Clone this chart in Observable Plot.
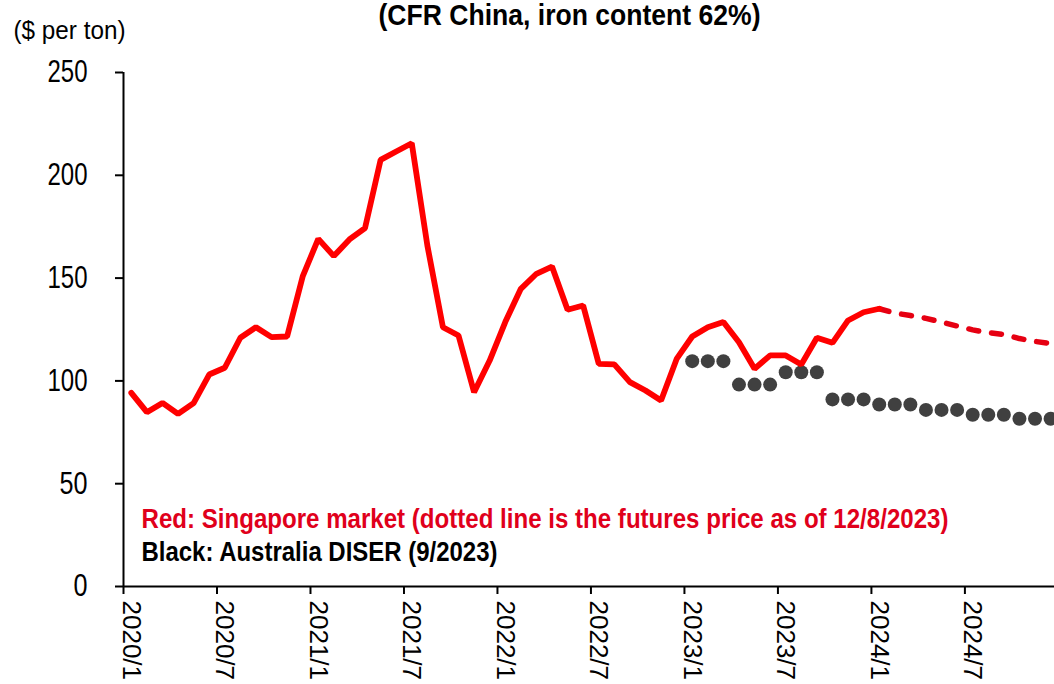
<!DOCTYPE html>
<html>
<head>
<meta charset="utf-8">
<script src="https://cdn.jsdelivr.net/npm/d3@7"></script>
<script src="https://cdn.jsdelivr.net/npm/@observablehq/plot@0.6"></script>
<style>
  html, body { margin: 0; padding: 0; background: #fff; overflow: hidden; }
  #chart svg { display: block; }
</style>
</head>
<body>
<div id="chart"></div>
<script>
// ---- Data (month index 0 = 2020/1) ----
const xTickIndex  = [0, 6, 12, 18, 24, 30, 36, 42, 48, 54];
const xTickLabels = ["2020/1","2020/7","2021/1","2021/7","2022/1","2022/7","2023/1","2023/7","2024/1","2024/7"];
const yTicks = [0, 50, 100, 150, 200, 250];

// Singapore market, actual monthly price (2020/1 .. 2024/1)
const actualStart = 0;
const actualValues = [94.2, 84.8, 89.3, 84.0, 89.2, 103.1, 106.4, 121.0, 126.1, 121.3, 121.6, 150.8,
  169.1, 160.7, 168.8, 174.3, 207.5, 211.6, 215.6, 165.9, 126.1, 122.1, 94.5, 109.9,
  128.6, 144.8, 152.1, 155.6, 134.6, 136.7, 108.3, 108.0, 99.4, 95.3, 90.5, 110.7,
  121.6, 126.1, 128.6, 118.8, 105.9, 112.4, 112.4, 108.0, 121.0, 118.5, 129.4, 133.4,
  135.1];

// Futures price as of 12/8/2023 (2024/1 .. 2024/12)
const futuresStart = 48;
const futuresValues = [135.1, 133.0, 131.8, 130.4, 128.6, 126.7, 124.8, 123.5, 122.6, 120.6, 119.2, 118.2];

// Australia DISER (9/2023) forecast, monthly (2023/1 .. 2024/12)
const diserStart = 36;
const diserValues = [109.6, 109.6, 109.6, 98.2, 98.2, 98.2, 104.2, 104.2, 104.2, 91.0, 91.0, 91.0,
  88.5, 88.5, 88.5, 85.9, 85.9, 85.9, 83.5, 83.5, 83.5, 81.6, 81.6, 81.6];

const titleText = "(CFR China, iron content 62%)";
const unitText = "($ per ton)";
const legendRed = "Red: Singapore market (dotted line is the futures price as of 12/8/2023)";
const legendBlack = "Black: Australia DISER (9/2023)";

// ---- Build tables ----
const actual = actualValues.map((v, i) => ({m: actualStart + i, v}));
const futures = futuresValues.map((v, i) => ({m: futuresStart + i, v}));
const diser = diserValues.map((v, i) => ({m: diserStart + i, v}));
const labelOf = new Map(xTickIndex.map((m, i) => [m + 0.5, xTickLabels[i]]));

const FONT = "'Liberation Sans', Arial, sans-serif";

const chart = Plot.plot({
  width: 1054,
  height: 684,
  marginLeft: 123,
  marginRight: 0,
  marginTop: 72,
  marginBottom: 98,
  style: {fontFamily: FONT, background: "#fff", overflow: "hidden"},
  x: {type: "linear", domain: [0, 59.75], axis: null},
  y: {domain: [0, 250], axis: null},
  marks: [
    // axes lines
    Plot.ruleX([0], {y1: 0, y2: 250, stroke: "#000", strokeWidth: 2}),
    Plot.ruleY([0], {stroke: "#000", strokeWidth: 2}),
    Plot.axisY({ticks: yTicks, tickSize: 8, tickPadding: 28, fontSize: 31, stroke: "#000", strokeWidth: 2, fill: "#000", label: null}),
    Plot.axisX({ticks: xTickIndex, tickSize: 8, tickFormat: () => "", stroke: "#000", strokeWidth: 2, label: null}),
    Plot.axisX({ticks: xTickIndex.map(m => m + 0.5), tickSize: 0, tickPadding: 14, tickRotate: 90,
      tickFormat: d => labelOf.get(d), fontSize: 26, fill: "#000", label: null}),
    // series
    Plot.dot(diser, {x: d => d.m + 0.5, y: "v", r: 7, fill: "#404040", stroke: "none"}),
    Plot.line(futures, {x: d => d.m + 0.5, y: "v", stroke: "#e60012", strokeWidth: 5.5,
      strokeDasharray: "10,13", strokeLinecap: "round"}),
    Plot.line(actual, {x: d => d.m + 0.5, y: "v", stroke: "#ff0000", strokeWidth: 5.8, strokeLinejoin: "miter"}),
    // texts
    Plot.text([titleText], {frameAnchor: "top-left", dx: 446, dy: -68, textAnchor: "middle",
      fontWeight: "bold", fontSize: 29, fill: "#000"}),
    Plot.text([unitText], {frameAnchor: "top-left", dx: -54, dy: -52, textAnchor: "middle",
      fontSize: 26, fill: "#000"}),
    Plot.text([legendRed], {frameAnchor: "bottom-left", dx: 18, dy: -59, textAnchor: "start",
      fontWeight: "bold", fontSize: 27, fill: "#e0001b"}),
    Plot.text([legendBlack], {frameAnchor: "bottom-left", dx: 18, dy: -26, textAnchor: "start",
      fontWeight: "bold", fontSize: 27, fill: "#000"})
  ]
});
document.getElementById("chart").append(chart);

// The reference uses a condensed face: narrow the horizontal texts to the widths seen there.
const targetWidth = new Map([
  [titleText, 382], [unitText, 112], [legendRed, 807], [legendBlack, 356],
  ["250", 40], ["200", 40], ["150", 40], ["100", 40], ["50", 28], ["0", 14]
]);
chart.querySelectorAll("text").forEach(t => {
  const w = targetWidth.get(t.textContent);
  if (w != null && !t.querySelector("tspan")) {
    t.setAttribute("textLength", w);
    t.setAttribute("lengthAdjust", "spacingAndGlyphs");
  }
});
</script>
</body>
</html>
